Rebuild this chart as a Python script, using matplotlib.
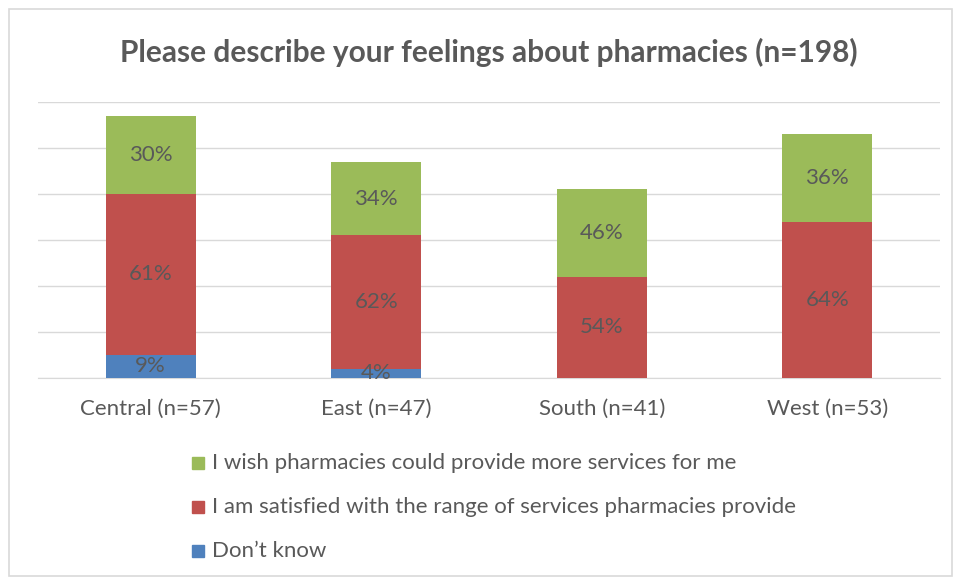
import matplotlib
matplotlib.use("Agg")
import matplotlib.pyplot as plt
from matplotlib.patches import Rectangle

categories = ["Central (n=57)", "East (n=47)", "South (n=41)", "West (n=53)"]
series_names = ["Don\u2019t know",
                "I am satisfied with the range of services pharmacies provide",
                "I wish pharmacies could provide more services for me"]
dont_know = [5, 2, 0, 0]
satisfied = [35, 29, 22, 34]
wish_more = [17, 16, 19, 19]
label_dont_know = ["9%", "4%", "", ""]
label_satisfied = ["61%", "62%", "54%", "64%"]
label_wish_more = ["30%", "34%", "46%", "36%"]
title = "Please describe your feelings about pharmacies (n=198)"

colors = ["#4F81BD", "#C0504D", "#9BBB59"]
text_color = "#595959"
plt.rcParams['font.family'] = ['Lato', 'DejaVu Sans']

fig = plt.figure(figsize=(9.6, 5.79), dpi=100)
fig.patches.append(Rectangle((9/960, 1-576/579), 943/960, 567/579, transform=fig.transFigure,
                             fill=False, edgecolor="#D9D9D9", linewidth=1.2))
ax = fig.add_axes([38/960, 1-378/579, 902/960, 276/579])

x = list(range(len(categories)))
series = [dont_know, satisfied, wish_more]
labels = [label_dont_know, label_satisfied, label_wish_more]
bottom = [0]*len(categories)
for vals, col, labs in zip(series, colors, labels):
    bars = ax.bar(x, vals, width=0.4, bottom=bottom, color=col, zorder=3)
    for i, (v, lab) in enumerate(zip(vals, labs)):
        if lab:
            ax.text(x[i], bottom[i] + v/2, lab, ha="center", va="center",
                    fontsize=16, color=text_color, zorder=4)
    bottom = [b + v for b, v in zip(bottom, vals)]

ax.set_xlim(-0.5, 3.5)
ax.set_ylim(0, 60)
ax.set_yticks(range(0, 61, 10))
ax.yaxis.grid(True, color="#D9D9D9", linewidth=1)
ax.set_axisbelow(True)
for s in ax.spines.values():
    s.set_visible(False)
ax.spines['bottom'].set_visible(True)
ax.spines['bottom'].set_color("#D9D9D9")
ax.tick_params(axis='y', length=0, labelleft=False)
ax.tick_params(axis='x', length=0, pad=15, labelsize=16, labelcolor=text_color)
ax.set_xticks(x)
ax.set_xticklabels(categories)

fig.text(489/960, 1-52/579, title, ha="center", va="center", fontsize=21.5,
         fontweight="bold", color=text_color)

# legend (top to bottom: wish, satisfied, don't know)
leg_rows = [(463, series_names[2], colors[2]),
            (507, series_names[1], colors[1]),
            (551, series_names[0], colors[0])]
for ypix, name, col in leg_rows:
    fig.patches.append(Rectangle((192/960, 1-(ypix+6)/579), 12/960, 12/579,
                                 transform=fig.transFigure, color=col))
    fig.text(212/960, 1-ypix/579, name, ha="left", va="center", fontsize=16,
             color=text_color)

fig.savefig("out.png", dpi=100)
